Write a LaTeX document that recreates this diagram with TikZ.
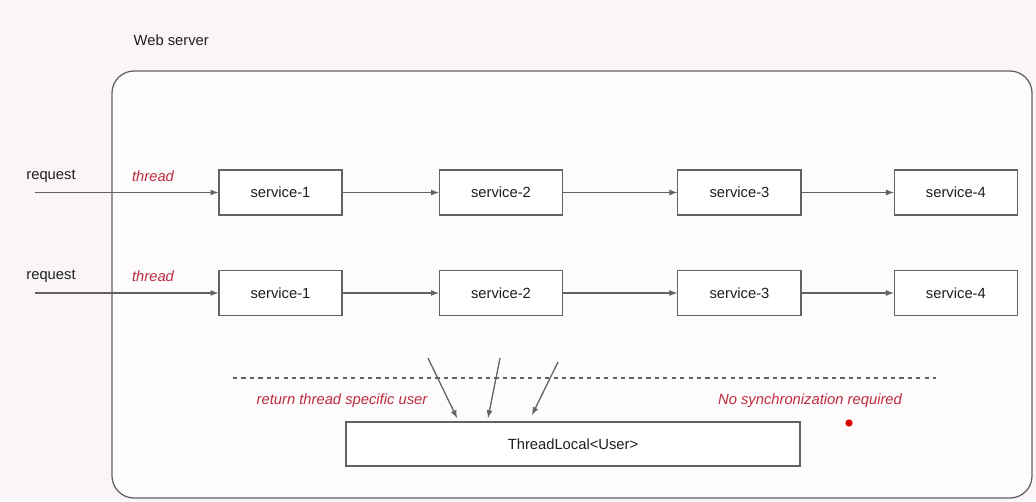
\documentclass[tikz,border=0pt]{standalone}
\usepackage{fontspec}
\setmainfont{Liberation Sans}
\usetikzlibrary{positioning}
\usetikzlibrary{arrows}

\definecolor{bgpaper}{HTML}{FAF6F8}
\definecolor{linegrey}{HTML}{626262}
\definecolor{threadred}{HTML}{BE2B3E}
\definecolor{inktext}{HTML}{1E1E1E}

\begin{document}
\begin{tikzpicture}[line width=0.9pt, node distance = 2.4cm,
  every node/.style = {font = \fontsize{10.5}{12}\selectfont, text=inktext, inner sep=0pt},
  service/.style = {rectangle, draw=linegrey, fill=white, minimum width=3.08cm, minimum height=1.13cm},
  note/.style = {text=threadred, font=\fontsize{10.5}{12}\selectfont\itshape},
  flow/.style = {->, >=latex, linegrey}]
  \fill[bgpaper] (0,0) rectangle (25.9,12.525);
  \useasboundingbox (0,0) rectangle (25.9,12.525);
  \draw[linegrey, rounded corners=0.55cm, fill=white!60!bgpaper] (2.8,0.075) rectangle (25.8,10.75);
  \node[anchor=west] (WS) at (3.325,11.525) {Web server};

  % first request
  \node (R1) at (1.275,8.125) {request};
  \node[note] (T1) at (3.825,8.125) {thread};
  \node[service] (A1) at (7.0125,7.7125) {service-1};
  \node[service] (B1) [right = 2.4cm of A1] {service-2};
  \node[service] (C1) [right = 2.85cm of B1] {service-3};
  \node[service] (D1) [right = 2.3cm of C1] {service-4};
  \coordinate (In1) at (0.875,7.7125);

  % second request
  \node (R2) at (1.275,5.625) {request};
  \node[note] (T2) at (3.825,5.625) {thread};
  \node[service] (A2) at (7.0125,5.2) {service-1};
  \node[service] (B2) [right = 2.4cm of A2] {service-2};
  \node[service] (C2) [right = 2.85cm of B2] {service-3};
  \node[service] (D2) [right = 2.3cm of C2] {service-4};
  \coordinate (In2) at (0.875,5.2);

  \foreach \row in {1,2} {
    \draw[flow] (In\row) -- (A\row);
    \draw[flow] (A\row) -- (B\row);
    \draw[flow] (B\row) -- (C\row);
    \draw[flow] (C\row) -- (D\row);
  }

  \node[service, minimum width=11.35cm, minimum height=1.1cm] (TL) at (14.325,1.425) {ThreadLocal<User>};
  \draw[linegrey, dashed] (5.825,3.075) -- (23.4,3.075);
  \node[note] (RU) at (8.55,2.5) {return thread specific user};
  \node[note] (NS) at (20.25,2.5) {No synchronization required};

  \coordinate (G1) at (10.7,3.575);
  \coordinate (G2) at (12.5,3.575);
  \coordinate (G3) at (13.95,3.475);
  \coordinate (H1) at (11.425,2.075);
  \coordinate (H2) at (12.2,2.075);
  \coordinate (H3) at (13.3,2.15);
  \draw[flow] (G1) -- (H1);
  \draw[flow] (G2) -- (H2);
  \draw[flow] (G3) -- (H3);

  \fill[red!85!black] (21.225,1.95) circle (0.09);
\end{tikzpicture}
\end{document}
